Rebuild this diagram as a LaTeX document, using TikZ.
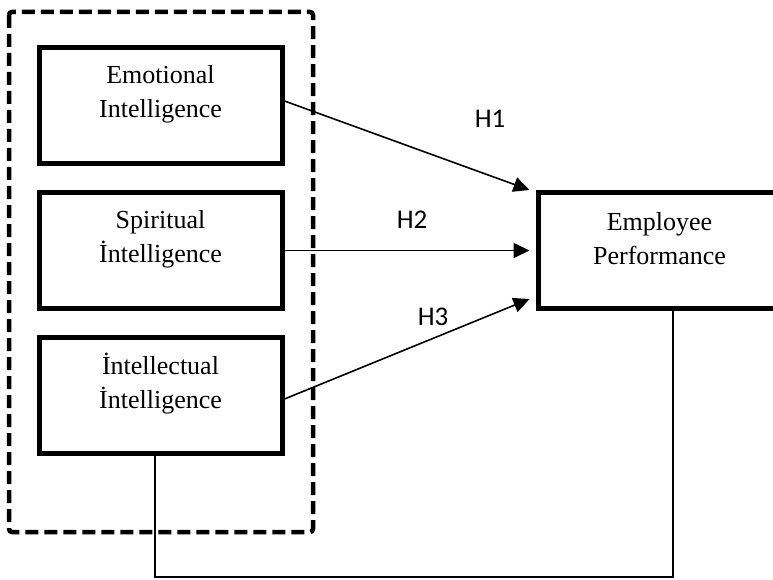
\documentclass[tikz,border=0pt]{standalone}
\usepackage{fontspec}
\setmainfont{Liberation Serif}
\newfontfamily\hypfont{Carlito}
\usetikzlibrary{arrows.meta}

\begin{document}
\begin{tikzpicture}[x=1pt, y=-1pt,
  construct/.style={draw, line width=5pt, minimum width=243pt, minimum height=116pt, inner sep=0pt},
  caption/.style={align=center, font=\fontsize{26}{34}\selectfont, yshift=11.5pt},
  hyp/.style={font=\hypfont\fontsize{27}{30}\selectfont},
  link/.style={-{Triangle[length=16pt, width=15pt]}, line width=1.6pt},
  group/.style={draw, line width=4.5pt, dash pattern=on 13pt off 6pt, rounded corners=3pt},
  feedback/.style={line width=1.3pt}]
\useasboundingbox (0,0) rectangle (773,580);
% dashed frame round the three intelligences
\draw[group] (9,12) rectangle (313,532);
\node[construct, label={[caption]center:Emotional\\Intelligence}] (emo) at (160.5,106) {};
\node[construct, label={[caption]center:Spiritual\\İntelligence}] (spi) at (160.5,250.5) {};
\node[construct, label={[caption]center:İntellectual\\İntelligence}] (intel) at (160.5,395) {};
\node[construct, label={[caption]center:Employee\\Performance}] (perf) at (659.5,250.5) {};
% hypotheses
\draw[link] ([yshift=5pt]emo.east) -- ([xshift=-6pt]perf.north west);
\draw[link] (spi.east) -- ([xshift=-6pt]perf.west);
\draw[link] ([yshift=-4pt]intel.east) -- ([xshift=-6pt, yshift=12pt]perf.south west);
\node[hyp] (h1) at (490,119) {H1};
\node[hyp] (h2) at (412,220) {H2};
\node[hyp] (h3) at (433,317) {H3};
% feedback line
\coordinate (base) at (155,577);
\draw[feedback] (intel.south -| base) -- (base) -| ([xshift=13.5pt]perf.south);
\end{tikzpicture}
\end{document}
